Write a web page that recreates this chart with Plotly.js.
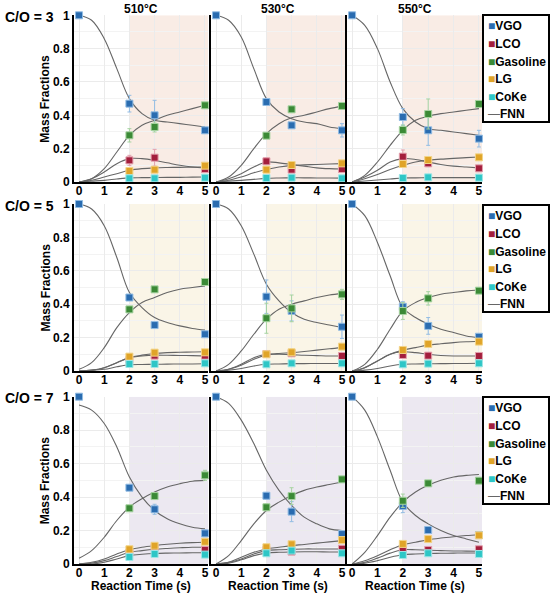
<!DOCTYPE html>
<html><head><meta charset="utf-8">
<script src="https://cdn.plot.ly/plotly-3.0.1.min.js"></script>
<style>html,body{margin:0;padding:0;background:#fff;}#chart{width:550px;height:594px;}</style>
</head><body><div id="chart"></div>
<script>
// ---- data ----
const species = ['VGO','LCO','Gasoline','LG','CoKe'];
const temps = ['510°C','530°C','550°C'];
const coRatios = ['C/O = 3','C/O = 5','C/O = 7'];
const xTicks = [0,1,2,3,4,5];
const yTickVals = [0,0.2,0.4,0.6,0.8,1];
const yTickText = ['0','0.2','0.4','0.6','0.8','1'];
const expTime = [0,2,3,5];
const fnnTime = [0,0.5,1,1.5,2,2.5,3,3.5,4,4.5,5];
// panels ordered: C/O=3 (510,530,550), C/O=5 (...), C/O=7 (...)
const VGO_exp = [
 [1.00,0.47,0.40,0.31],[1.00,0.48,0.34,0.31],[1.00,0.39,0.31,0.26],
 [1.00,0.44,0.275,0.22],[1.00,0.445,0.36,0.265],[1.00,0.385,0.27,0.205],
 [1.00,0.456,0.327,0.183],[1.00,0.408,0.313,0.179],[1.00,0.347,0.203,0.173]];
const LCO_exp = [
 [null,0.13,0.146,0.078],[null,0.124,0.074,0.078],[null,0.152,0.112,0.082],
 [null,0.066,0.092,0.092],[null,0.102,0.106,0.09],[null,0.096,0.092,0.09],
 [null,0.068,0.10,0.084],[null,0.084,0.074,0.091],[null,0.088,0.084,0.088]];
const Gasoline_exp = [
 [null,0.28,0.33,0.46],[null,0.278,0.436,0.456],[null,0.312,0.408,0.468],
 [null,0.369,0.489,0.533],[null,0.316,0.375,0.459],[null,0.359,0.435,0.481],
 [null,0.333,0.406,0.53],[null,0.339,0.406,0.506],[null,0.378,0.482,0.498]];
const LG_exp = [
 [null,0.066,0.074,0.098],[null,0.074,0.102,0.112],[null,0.108,0.132,0.148],
 [null,0.086,0.11,0.112],[null,0.10,0.112,0.146],[null,0.126,0.162,0.176],
 [null,0.088,0.109,0.133],[null,0.10,0.118,0.143],[null,0.12,0.149,0.171]];
const CoKe_exp = [
 [null,0.022,0.022,0.026],[null,0.024,0.026,0.022],[null,0.024,0.028,0.026],
 [null,0.042,0.042,0.046],[null,0.04,0.046,0.046],[null,0.04,0.044,0.046],
 [null,0.042,0.06,0.056],[null,0.064,0.08,0.064],[null,0.054,0.064,0.06]];

const VGO_err = [
 [0,0.05,0.09,0.01],[0,0.02,0.01,0.04],[0,0.05,0.09,0.05],
 [0,0.01,0.01,0.01],[0,0.10,0.06,0.07],[0,0.03,0.05,0.01],
 [0,0.01,0.03,0.02],[0,0.02,0.06,0.02],[0,0.04,0.01,0.01]];
const LCO_err = [
 [0,0.03,0.05,0.01],[0,0.02,0.01,0.01],[0,0.04,0.02,0.01],
 [0,0.01,0.01,0.01],[0,0.01,0.01,0.01],[0,0.01,0.01,0.01],
 [0,0.01,0.01,0.01],[0,0.01,0.01,0.01],[0,0.01,0.01,0.01]];
const Gasoline_err = [
 [0,0.04,0.03,0.01],[0,0.01,0.01,0.02],[0,0.03,0.09,0.02],
 [0,0.01,0.01,0.01],[0,0.09,0.08,0.03],[0,0.05,0.04,0.01],
 [0,0.01,0.02,0.03],[0,0.02,0.05,0.01],[0,0.04,0.01,0.01]];
const LG_err = [
 [0,0.01,0.01,0.01],[0,0.01,0.01,0.01],[0,0.02,0.02,0.01],
 [0,0.01,0.01,0.01],[0,0.01,0.02,0.01],[0,0.01,0.01,0.01],
 [0,0.01,0.01,0.01],[0,0.01,0.01,0.01],[0,0.01,0.01,0.01]];
const CoKe_err = [
 [0,0.005,0.005,0.005],[0,0.005,0.005,0.005],[0,0.005,0.005,0.005],
 [0,0.005,0.005,0.005],[0,0.005,0.005,0.005],[0,0.005,0.005,0.005],
 [0,0.005,0.005,0.005],[0,0.005,0.005,0.005],[0,0.005,0.005,0.005]];

const VGO_fnn = [
 [1.0,0.97,0.86,0.68,0.50,0.41,0.37,0.36,0.35,0.34,0.33],
 [1.0,0.97,0.87,0.68,0.50,0.42,0.38,0.36,0.35,0.33,0.32],
 [1.0,0.94,0.80,0.60,0.44,0.36,0.32,0.31,0.30,0.29,0.28],
 [1.0,0.97,0.87,0.68,0.47,0.38,0.32,0.29,0.27,0.255,0.245],
 [1.0,0.97,0.87,0.70,0.52,0.42,0.35,0.31,0.29,0.275,0.26],
 [1.0,0.93,0.77,0.57,0.38,0.32,0.28,0.25,0.23,0.21,0.20],
 [0.95,0.92,0.84,0.70,0.52,0.40,0.32,0.27,0.24,0.22,0.21],
 [1.0,0.96,0.86,0.72,0.56,0.44,0.35,0.28,0.24,0.21,0.20],
 [1.0,0.92,0.76,0.56,0.37,0.29,0.24,0.20,0.17,0.15,0.13]];
const Gasoline_fnn = [
 [0,0.02,0.08,0.18,0.28,0.34,0.37,0.40,0.42,0.44,0.46],
 [0,0.03,0.10,0.20,0.29,0.35,0.385,0.40,0.42,0.44,0.455],
 [0,0.04,0.12,0.22,0.31,0.37,0.395,0.41,0.42,0.43,0.44],
 [0.01,0.05,0.14,0.26,0.35,0.41,0.44,0.47,0.49,0.50,0.51],
 [0,0.04,0.12,0.22,0.31,0.37,0.40,0.42,0.44,0.455,0.465],
 [0,0.04,0.13,0.25,0.36,0.41,0.44,0.46,0.47,0.48,0.485],
 [0.035,0.08,0.16,0.26,0.34,0.39,0.43,0.46,0.48,0.495,0.50],
 [0,0.05,0.14,0.24,0.32,0.37,0.41,0.44,0.46,0.475,0.49],
 [0,0.07,0.17,0.28,0.37,0.43,0.47,0.50,0.52,0.53,0.535]];
const LCO_fnn = [
 [0,0.02,0.06,0.11,0.14,0.14,0.13,0.115,0.10,0.09,0.085],
 [0,0.02,0.05,0.09,0.12,0.115,0.105,0.095,0.085,0.08,0.078],
 [0,0.03,0.07,0.12,0.14,0.135,0.12,0.105,0.095,0.09,0.085],
 [0,0.005,0.02,0.05,0.08,0.09,0.095,0.094,0.093,0.092,0.09],
 [0,0.01,0.04,0.08,0.10,0.10,0.098,0.094,0.092,0.09,0.09],
 [0,0.02,0.06,0.10,0.115,0.11,0.10,0.093,0.09,0.09,0.09],
 [0,0.005,0.02,0.045,0.07,0.08,0.088,0.093,0.097,0.10,0.10],
 [0,0.01,0.03,0.06,0.08,0.085,0.088,0.09,0.09,0.09,0.09],
 [0,0.01,0.035,0.065,0.085,0.085,0.082,0.08,0.078,0.077,0.076]];
const LG_fnn = [
 [0,0.01,0.03,0.05,0.07,0.08,0.085,0.087,0.088,0.089,0.09],
 [0,0.01,0.03,0.055,0.075,0.09,0.10,0.103,0.105,0.108,0.11],
 [0,0.02,0.045,0.075,0.10,0.12,0.13,0.137,0.142,0.146,0.15],
 [0,0.005,0.02,0.05,0.08,0.095,0.105,0.11,0.112,0.114,0.115],
 [0,0.01,0.035,0.07,0.095,0.105,0.11,0.117,0.125,0.133,0.14],
 [0,0.02,0.06,0.10,0.125,0.14,0.155,0.163,0.17,0.175,0.178],
 [0,0.01,0.03,0.06,0.085,0.10,0.11,0.118,0.124,0.128,0.13],
 [0,0.01,0.04,0.07,0.09,0.10,0.11,0.117,0.125,0.132,0.14],
 [0,0.02,0.05,0.085,0.115,0.13,0.145,0.155,0.163,0.17,0.175]];
const CoKe_fnn = [
 [0,0.005,0.01,0.018,0.025,0.026,0.027,0.028,0.028,0.029,0.03],
 [0,0.005,0.01,0.016,0.022,0.024,0.025,0.025,0.024,0.024,0.023],
 [0,0.006,0.012,0.018,0.024,0.025,0.026,0.026,0.026,0.026,0.026],
 [0,0.003,0.01,0.025,0.037,0.039,0.04,0.041,0.042,0.042,0.043],
 [0,0.005,0.015,0.03,0.04,0.042,0.044,0.044,0.045,0.045,0.045],
 [0,0.005,0.015,0.03,0.04,0.042,0.043,0.044,0.045,0.045,0.046],
 [0,0,0.01,0.03,0.05,0.058,0.063,0.065,0.066,0.067,0.067],
 [0,0.005,0.025,0.05,0.065,0.07,0.072,0.073,0.073,0.072,0.072],
 [0,0.005,0.02,0.04,0.055,0.06,0.063,0.064,0.065,0.066,0.066]];

// ---- styles ----
const colors = {VGO:'#2a6cb0', LCO:'#a31e3c', Gasoline:'#3b8a36', LG:'#e0a428', CoKe:'#2ec6c6'};
const errColors = {VGO:'#92bce3', LCO:'#e3a0ae', Gasoline:'#a6d3a0', LG:'#f2d488', CoKe:'#a0e6e6'};
const shadeColors = ['#f9ece5','#faf5e7','#ece8f1'];
const expData = {VGO:VGO_exp, LCO:LCO_exp, Gasoline:Gasoline_exp, LG:LG_exp, CoKe:CoKe_exp};
const errData = {VGO:VGO_err, LCO:LCO_err, Gasoline:Gasoline_err, LG:LG_err, CoKe:CoKe_err};
const fnnData = {VGO:VGO_fnn, LCO:LCO_fnn, Gasoline:Gasoline_fnn, LG:LG_fnn, CoKe:CoKe_fnn};

const W = 550, H = 594;
const colPx = [[74,208],[211,345],[347,482]];
const rowPx = [[15.3,182],[204,371],[396.7,564]];
const xRange = [-0.2, 5.12];
const FONT = 'Liberation Sans, Arial, sans-serif';

const traces = [];
const layout = {
  width: W, height: H, margin:{l:0,r:0,t:0,b:0},
  paper_bgcolor:'#fff', plot_bgcolor:'#fff', showlegend:false,
  font:{family:FONT, color:'#000'},
  shapes:[], annotations:[]
};

for (let r=0; r<3; r++) {
  for (let c=0; c<3; c++) {
    const p = r*3+c, n = p+1;
    const xa = 'x'+(n===1?'':n), ya = 'y'+(n===1?'':n);
    const xKey = 'xaxis'+(n===1?'':n), yKey = 'yaxis'+(n===1?'':n);
    layout[xKey] = {
      domain:[colPx[c][0]/W, colPx[c][1]/W], anchor: ya, range: xRange,
      tickvals: xTicks, ticktext: xTicks.map(String), showline:true, linecolor:'#000', linewidth:2,
      ticks:'', ticklen:0, ticklabelstandoff:-3, showgrid:true, gridcolor:'#ebebeb', gridwidth:1, zeroline:false,
      tickfont:{family:FONT, size:12, weight:'bold', color:'#000'}
    };
    layout[yKey] = {
      domain:[1-rowPx[r][1]/H, 1-rowPx[r][0]/H], anchor: xa, range:[0,1],
      tickvals: yTickVals, ticktext: yTickText, showticklabels: c===0,
      showline:true, linecolor:'#000', linewidth:2, ticks:'', ticklen:0, zeroline:false,
      showgrid:true, gridcolor:'#ebebeb', gridwidth:1,
      minor:{dtick:0.1, showgrid:true, gridcolor:'#f3f3f3'},
      tickfont:{family:FONT, size:12, weight:'bold', color:'#000'}
    };
    layout.shapes.push({type:'rect', xref:xa, yref:ya, x0:2, x1:xRange[1], y0:0, y1:1,
      fillcolor:shadeColors[r], line:{width:0}, layer:'below'});
    species.forEach(s => {
      traces.push({type:'scatter', mode:'lines', x:fnnTime, y:fnnData[s][p], xaxis:xa, yaxis:ya,
        line:{color:'#666666', width:1.1, shape:'spline', smoothing:1}, hoverinfo:'skip'});
    });
    species.forEach(s => {
      traces.push({type:'scatter', mode:'markers', x:expTime, y:expData[s][p], xaxis:xa, yaxis:ya,
        cliponaxis:false,
        marker:{symbol:'square', size:7, color:colors[s], line:{color:errColors[s], width:1}},
        error_y:{type:'data', array:errData[s][p], visible:true, color:errColors[s], thickness:1, width:2}});
    });
  }
}

// titles
temps.forEach((t,c) => {
  layout.annotations.push({xref:'paper', yref:'paper', x:(colPx[c][0]+colPx[c][1])/2/W, y:1-9/H,
    text:'<b>'+t+'</b>', showarrow:false, font:{family:FONT, size:12, color:'#000'}, xanchor:'center', yanchor:'middle'});
  layout.annotations.push({xref:'paper', yref:'paper', x:(colPx[c][0]+colPx[c][1])/2/W, y:1-586/H,
    text:'<b>Reaction Time (s)</b>', showarrow:false, font:{family:FONT, size:12, color:'#000'}, xanchor:'center', yanchor:'middle'});
});
const coY = [17, 206, 398];
coRatios.forEach((t,r) => {
  layout.annotations.push({xref:'paper', yref:'paper', x:3/W, y:1-coY[r]/H,
    text:'<b>'+t+'</b>', showarrow:false, font:{family:FONT, size:14, color:'#000'}, xanchor:'left', yanchor:'middle'});
  layout.annotations.push({xref:'paper', yref:'paper', x:45/W, y:1-(rowPx[r][0]+rowPx[r][1])/2/H,
    text:'<b>Mass Fractions</b>', textangle:-90, showarrow:false, font:{family:FONT, size:12, color:'#000'}, xanchor:'center', yanchor:'middle'});
});

// legends (one per row)
const legTop = [15, 205, 397];
const legOffsets = [11, 29, 47, 64, 82, 99];
const legItems = species.map(s => ({sym:'■', color:colors[s], name:s})).concat([{sym:'—', color:'#666666', name:'FNN'}]);
legTop.forEach(top => {
  layout.shapes.push({type:'rect', xref:'paper', yref:'paper', x0:483/W, x1:549/W, y0:1-(top+107)/H, y1:1-top/H,
    line:{color:'#000', width:2}, fillcolor:'rgba(255,255,255,0)'});
  legItems.forEach((it,i) => {
    layout.annotations.push({xref:'paper', yref:'paper', x:486/W, y:1-(top+legOffsets[i])/H,
      text:'<span style="color:'+it.color+'">'+it.sym+'</span><b>'+it.name+'</b>', showarrow:false,
      font:{family:FONT, size:12, color:'#000'}, xanchor:'left', yanchor:'middle'});
  });
});

Plotly.newPlot('chart', traces, layout, {staticPlot:true, displayModeBar:false});
</script></body></html>
